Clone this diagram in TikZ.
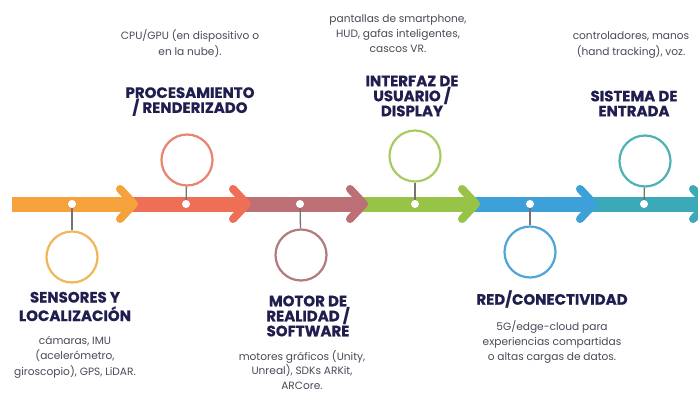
\documentclass[tikz,border=0pt]{standalone}
\usepackage{fontspec}
\setmainfont{Poppins}
\newfontfamily\ttlfont[FakeBold=0.6]{Poppins Bold}
\begin{document}
\begin{tikzpicture}[x=1pt,y=-1pt,
  band/.style={line width=15pt},
  chev/.style={line width=8pt,line cap=round,line join=round},
  dotnode/.style={circle,fill=white,inner sep=0pt,minimum size=8pt},
  ring/.style={circle,draw=#1,line width=2.2pt,minimum size=51pt,inner sep=0pt},
  link/.style={draw=black!55,line width=1.3pt},
  ttl/.style={align=center,text=navy,font=\ttlfont\fontsize{15}{15}\selectfont,inner sep=0pt},
  dsc/.style={align=center,text=descg,font=\fontsize{10.6}{15.3}\selectfont,inner sep=0pt}]
\definecolor{navy}{HTML}{1F1E4F}
\definecolor{descg}{HTML}{4A4A58}
\definecolor{corange}{HTML}{F6A23C}
\definecolor{cred}{HTML}{EE6F56}
\definecolor{cmauve}{HTML}{BC6F74}
\definecolor{cgreen}{HTML}{97C347}
\definecolor{cblue}{HTML}{3DA0D8}
\definecolor{cteal}{HTML}{3CA9B8}
\definecolor{rorange}{HTML}{F2B65A}
\definecolor{rred}{HTML}{E8836F}
\definecolor{rmauve}{HTML}{B27A7C}
\definecolor{rgreen}{HTML}{A9CB62}
\definecolor{rblue}{HTML}{4FA6D6}
\definecolor{rteal}{HTML}{4DB1B6}
\useasboundingbox[fill=white] (0,0) rectangle (698,394);
% band segments
\draw[band,corange] (12,204) -- (136,204);
\draw[band,cred] (132,204) -- (248,204);
\draw[band,cmauve] (244,204) -- (365,204);
\draw[band,cgreen] (361,204) -- (477,204);
\draw[band,cblue] (473,204) -- (595,204);
\draw[band,cteal] (591,204) -- (698,204);
% chevrons
\draw[chev,corange] (120,189) -- (134,204) -- (120,219);
\draw[chev,cred] (233,189) -- (247,204) -- (233,219);
\draw[chev,cmauve] (350,189) -- (364,204) -- (350,219);
\draw[chev,cgreen] (462,189) -- (476,204) -- (462,219);
\draw[chev,cblue] (580,189) -- (594,204) -- (580,219);
\draw[chev,cteal] (693,189) -- (707,204) -- (693,219);
% dots
\node[dotnode] (d1) at (72,204) {};
\node[dotnode] (d2) at (186,204) {};
\node[dotnode] (d3) at (300,204) {};
\node[dotnode] (d4) at (415,204) {};
\node[dotnode] (d5) at (530,204) {};
\node[dotnode] (d6) at (644,204) {};
% rings
\node[ring=rorange] (c1) at (72,257) {};
\node[ring=rred] (c2) at (187,160) {};
\node[ring=rmauve] (c3) at (301,255) {};
\node[ring=rgreen] (c4) at (415,156) {};
\node[ring=rblue] (c5) at (530,252) {};
\node[ring=rteal] (c6) at (645,161) {};
% links
\draw[link] (d1) -- (c1);
\draw[link] (d2) -- (c2);
\draw[link] (d3) -- (c3);
\draw[link] (d4) -- (c4);
\draw[link] (d5) -- (c5);
\draw[link] (d6) -- (c6);
% titles
\node[ttl,font=\ttlfont\fontsize{15}{18.5}\selectfont] (t1) at (75,306.5) {SENSORES Y\\LOCALIZACIÓN};
\node[ttl] (t2) at (190,101.5) {PROCESAMIENTO\\/ RENDERIZADO};
\node[ttl] (t3) at (308,316) {MOTOR DE\\REALIDAD /\\SOFTWARE};
\node[ttl] (t4) at (412,96) {INTERFAZ DE\\USUARIO /\\DISPLAY};
\node[ttl] (t5) at (552,299) {RED/CONECTIVIDAD};
\node[ttl] (t6) at (634,103.5) {SISTEMA DE\\ENTRADA};
% descriptions
\node[dsc] (p1) at (75,357) {cámaras, IMU\\(acelerómetro,\\giroscopio), GPS, LiDAR.};
\node[dsc,font=\fontsize{10.6}{16.5}\selectfont] (p2) at (190,43.5) {CPU/GPU (en dispositivo o\\en la nube).};
\node[dsc,font=\fontsize{10.6}{14.8}\selectfont] (p3) at (302,370) {motores gráficos (Unity,\\Unreal), SDKs ARKit,\\ARCore.};
\node[dsc,font=\fontsize{10.6}{15}\selectfont] (p4) at (398,34) {pantallas de smartphone,\\HUD, gafas inteligentes,\\cascos VR.};
\node[dsc] (p5) at (552,342) {5G/edge-cloud para\\experiencias compartidas\\o altas cargas de datos.};
\node[dsc,font=\fontsize{10.6}{16}\selectfont] (p6) at (631,45) {controladores, manos\\(hand tracking), voz.};
\end{tikzpicture}
\end{document}
